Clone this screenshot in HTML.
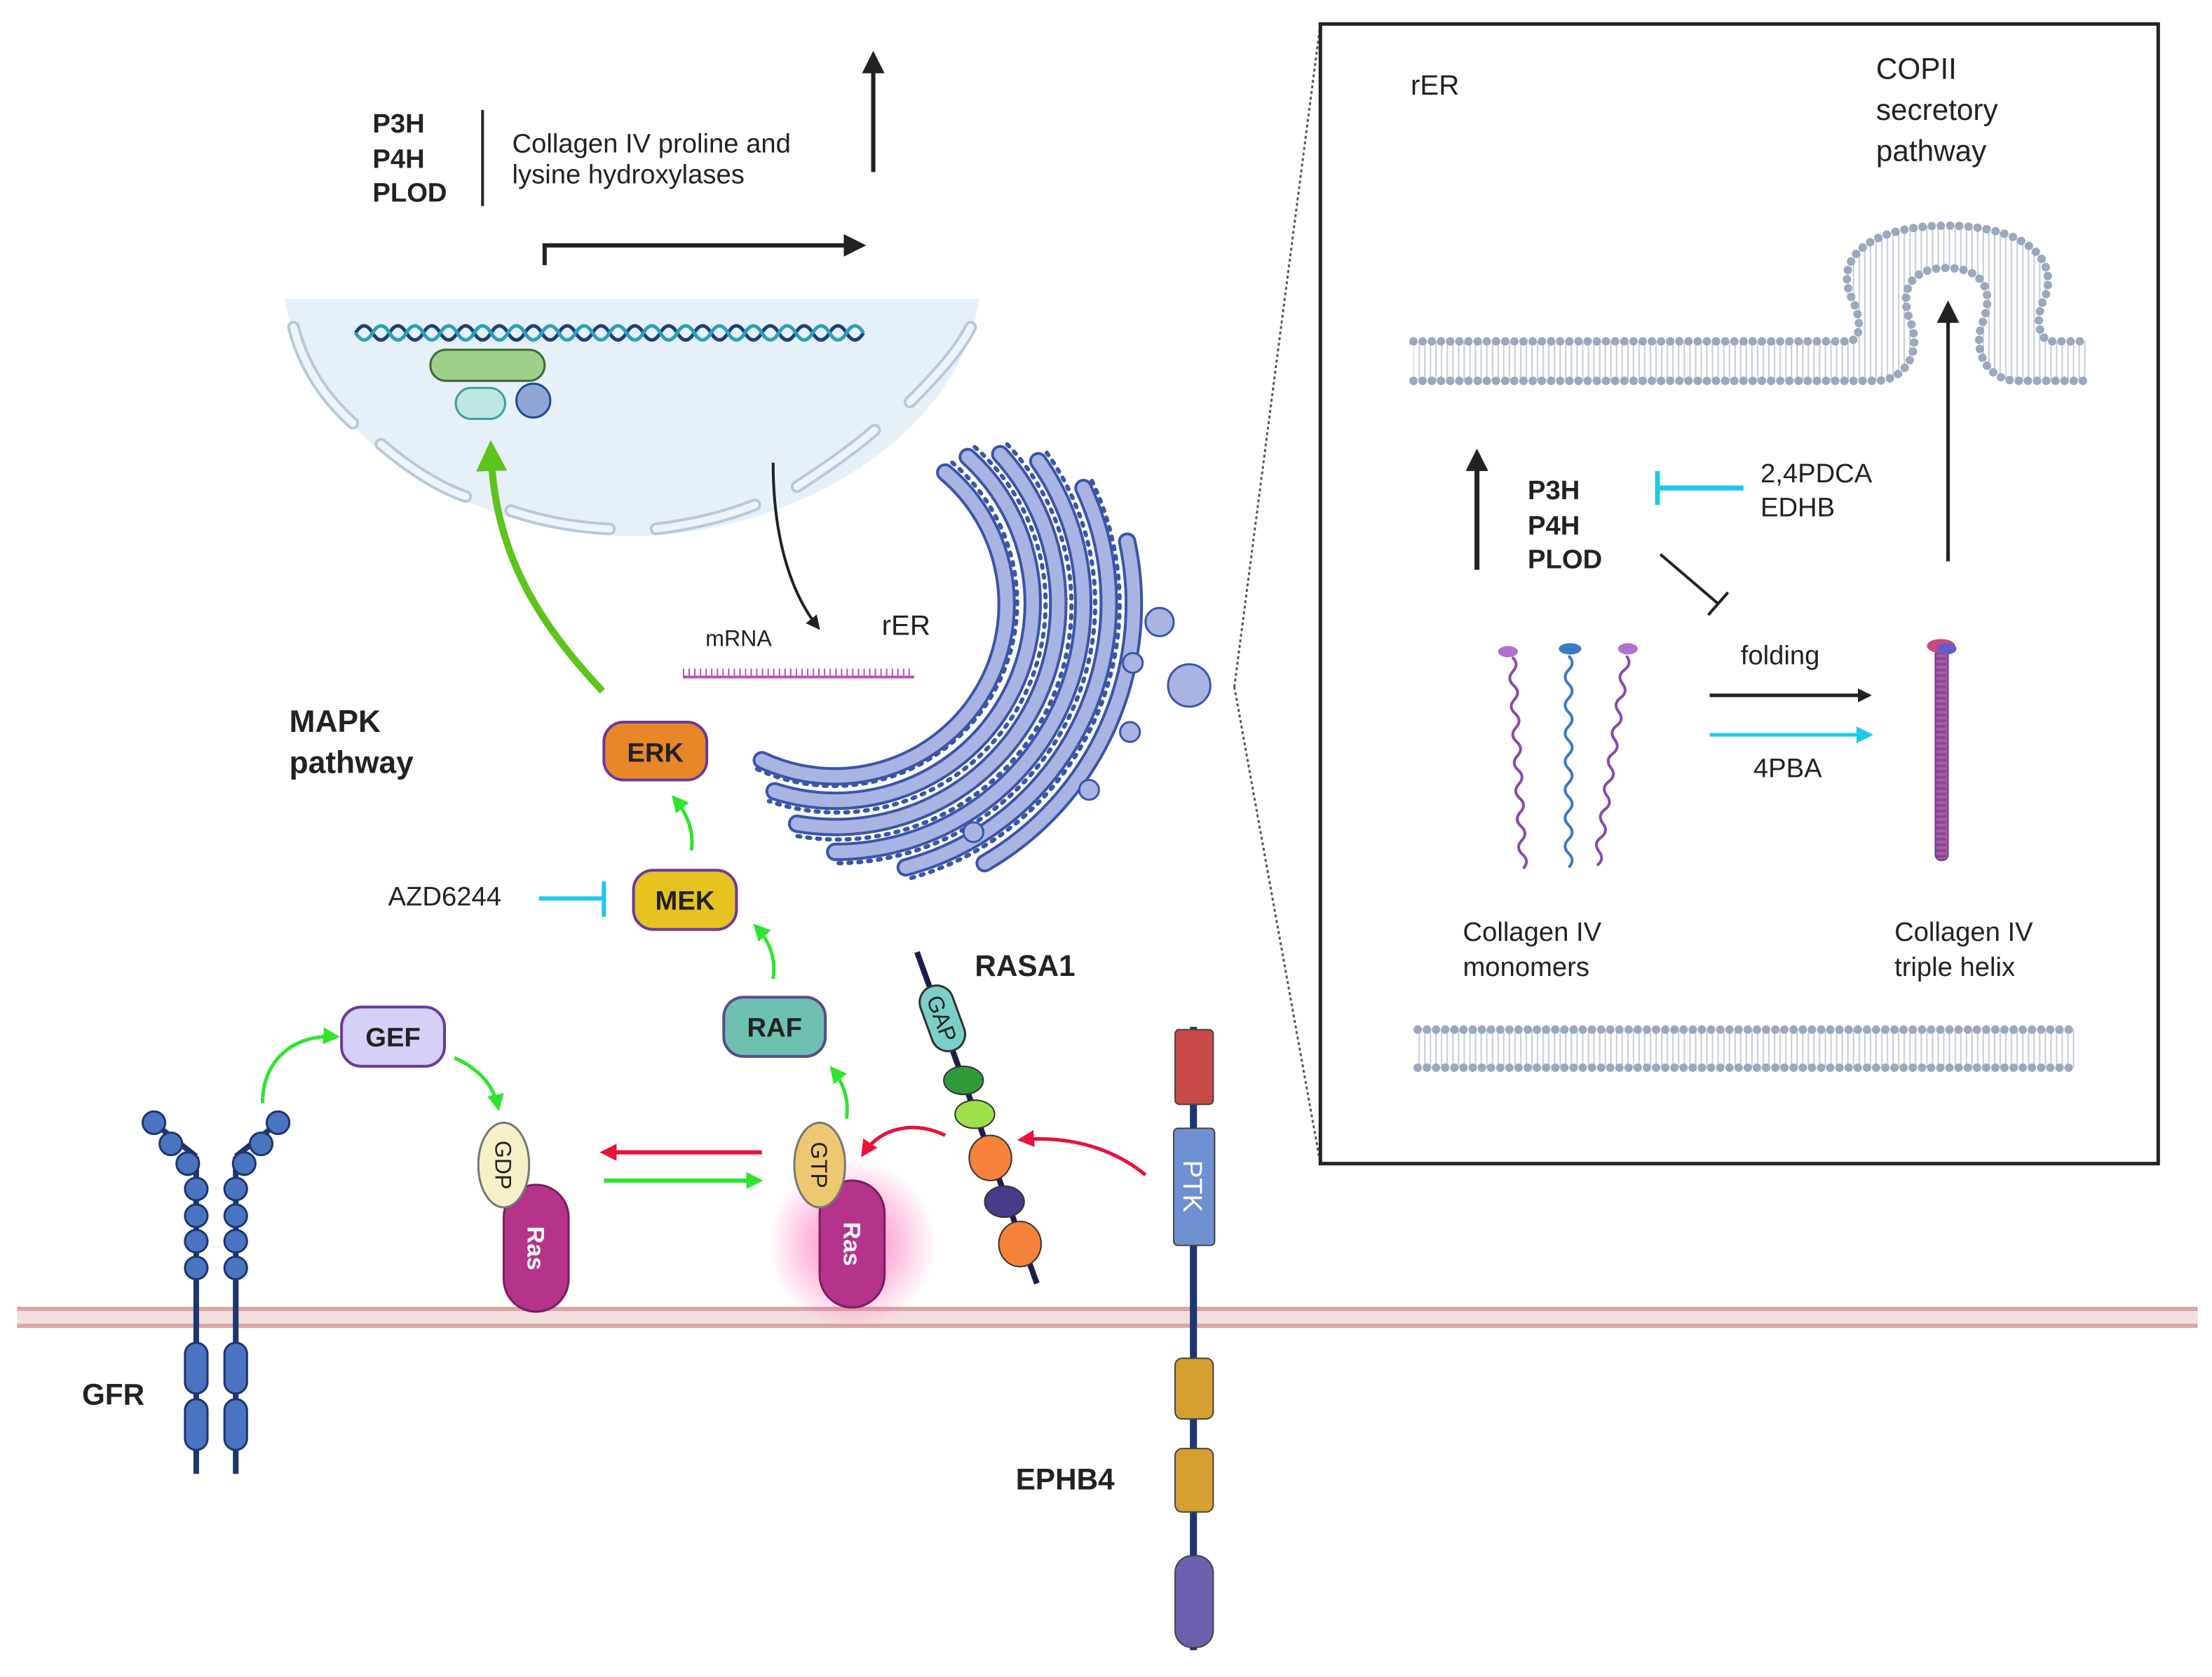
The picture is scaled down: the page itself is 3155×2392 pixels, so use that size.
<!DOCTYPE html>
<html><head><meta charset="utf-8"><style>
html,body{margin:0;padding:0;background:#fff}
svg{display:block}
text{font-family:"Liberation Sans",sans-serif;fill:#222}
.b{font-weight:bold}
</style></head><body>
<svg width="3155" height="2392" viewBox="0 0 1568 1189" xmlns="http://www.w3.org/2000/svg">
<defs>
<marker id="ak" markerWidth="10" markerHeight="10" refX="8" refY="5" orient="auto" markerUnits="userSpaceOnUse"><path d="M0,0 L10,5 L0,10 z" fill="#222"/></marker>
<marker id="akL" markerWidth="16" markerHeight="16" refX="12" refY="8" orient="auto" markerUnits="userSpaceOnUse"><path d="M0,0 L16,8 L0,16 z" fill="#222"/></marker>
<marker id="ag" markerWidth="12" markerHeight="12" refX="9" refY="6" orient="auto" markerUnits="userSpaceOnUse"><path d="M0,0 L12,6 L0,12 z" fill="#2ee52e"/></marker>
<marker id="agL" markerWidth="22" markerHeight="22" refX="14" refY="11" orient="auto" markerUnits="userSpaceOnUse"><path d="M0,0 L22,11 L0,22 z" fill="#5cc41a"/></marker>
<marker id="ar" markerWidth="12" markerHeight="12" refX="9" refY="6" orient="auto" markerUnits="userSpaceOnUse"><path d="M0,0 L12,6 L0,12 z" fill="#e8123a"/></marker>
<marker id="ac" markerWidth="12" markerHeight="12" refX="9" refY="6" orient="auto" markerUnits="userSpaceOnUse"><path d="M0,0 L12,6 L0,12 z" fill="#1ec8e8"/></marker>
<radialGradient id="glow"><stop offset="0" stop-color="#ff4fa8" stop-opacity=".8"/><stop offset="1" stop-color="#ff4fa8" stop-opacity="0"/></radialGradient>
<pattern id="tails" width="4" height="10" patternUnits="userSpaceOnUse"><line x1="2" y1="0" x2="2" y2="10" stroke="#c5ccda" stroke-width="1"/></pattern>
</defs>

<!-- cell membrane -->
<rect x="12" y="927" width="1546" height="14" fill="#f3dede"/>
<line x1="12" y1="928" x2="1558" y2="928" stroke="#d9a6a6" stroke-width="3"/>
<line x1="12" y1="940" x2="1558" y2="940" stroke="#d9a6a6" stroke-width="3"/>

<!-- nucleus -->
<path d="M202,212 H694 C680,310 560,380 448,380 C336,380 216,310 202,212 Z" fill="#e6f0f8"/>
<path d="M208,232 C215,260 230,282 250,300 M270,315 C290,332 310,345 330,352 M362,362 C385,370 410,374 432,375 M465,375 C490,372 515,366 535,358 M565,345 C585,332 605,318 620,305 M645,285 C665,265 680,248 688,232" fill="none" stroke="#b8c8d8" stroke-width="9" stroke-linecap="round"/>
<path d="M208,232 C215,260 230,282 250,300 M270,315 C290,332 310,345 330,352 M362,362 C385,370 410,374 432,375 M465,375 C490,372 515,366 535,358 M565,345 C585,332 605,318 620,305 M645,285 C665,265 680,248 688,232" fill="none" stroke="#eef4fa" stroke-width="5" stroke-linecap="round"/>
<path d="M252,236 q6,-10 12,0 t12,0 t12,0 t12,0 t12,0 t12,0 t12,0 t12,0 t12,0 t12,0 t12,0 t12,0 t12,0 t12,0 t12,0 t12,0 t12,0 t12,0 t12,0 t12,0 t12,0 t12,0 t12,0 t12,0 t12,0 t12,0 t12,0 t12,0 t12,0 t12,0" fill="none" stroke="#1d3f7a" stroke-width="2.5"/>
<path d="M252,236 q6,10 12,0 t12,0 t12,0 t12,0 t12,0 t12,0 t12,0 t12,0 t12,0 t12,0 t12,0 t12,0 t12,0 t12,0 t12,0 t12,0 t12,0 t12,0 t12,0 t12,0 t12,0 t12,0 t12,0 t12,0 t12,0 t12,0 t12,0 t12,0 t12,0 t12,0" fill="none" stroke="#2aa0b8" stroke-width="2.5"/>
<rect x="305" y="248" width="81" height="22" rx="11" fill="#9fd08a" stroke="#3c6a30" stroke-width="1.5"/>
<rect x="323" y="275" width="35" height="22" rx="11" fill="#bfe6e0" stroke="#3aa0a0" stroke-width="1.5"/>
<circle cx="378" cy="284" r="12" fill="#8fa6d6" stroke="#1d4a98" stroke-width="1.5"/>

<!-- top text -->
<text x="264" y="94" class="b" font-size="19">P3H</text>
<text x="264" y="119" class="b" font-size="19">P4H</text>
<text x="264" y="143" class="b" font-size="19">PLOD</text>
<line x1="342" y1="78" x2="342" y2="146" stroke="#222" stroke-width="2"/>
<text x="363" y="108" font-size="19">Collagen IV proline and</text>
<text x="363" y="130" font-size="19">lysine hydroxylases</text>
<path d="M386,188 V174 H610" fill="none" stroke="#222" stroke-width="3" marker-end="url(#akL)"/>
<line x1="619" y1="122" x2="619" y2="40" stroke="#222" stroke-width="3" marker-end="url(#akL)"/>

<!-- arrows nucleus -->
<path d="M427,490 C380,440 350,390 348,320" fill="none" stroke="#5cc41a" stroke-width="5" marker-end="url(#agL)"/>
<path d="M548,328 C548,380 560,420 580,445" fill="none" stroke="#222" stroke-width="2" marker-end="url(#ak)"/>

<text x="500" y="458" font-size="16">mRNA</text>
<line x1="484" y1="480" x2="648" y2="480" stroke="#c050b0" stroke-width="2"/>
<line x1="484" y1="477" x2="648" y2="477" stroke="#c050b0" stroke-width="6" stroke-dasharray="1 3"/>
<text x="625" y="450" font-size="20">rER</text>

<!-- ER -->
<g fill="none" stroke-linecap="round">
<g stroke="#3a55a8" stroke-width="3" stroke-dasharray="2 5">
<path d="M675,328 A130,130 0 0 1 536,545"/>
<path d="M691,317 A148,148 0 0 1 545,568"/>
<path d="M714,315 A166,166 0 0 1 561,592"/>
<path d="M742,321 A184,184 0 0 1 592,612"/>
<path d="M774,341 A202,202 0 0 1 644,623"/>
</g>
<g stroke="#3a55a8" stroke-width="13">
<path d="M670,335 A122,122 0 0 1 540,539"/>
<path d="M686,324 A140,140 0 0 1 549,561"/>
<path d="M709,322 A158,158 0 0 1 565,584"/>
<path d="M736,327 A176,176 0 0 1 592,604"/>
<path d="M768,346 A194,194 0 0 1 642,615"/>
<path d="M799,384 A212,212 0 0 1 698,612"/>
</g>
<g stroke="#a9b4e2" stroke-width="9">
<path d="M670,335 A122,122 0 0 1 540,539"/>
<path d="M686,324 A140,140 0 0 1 549,561"/>
<path d="M709,322 A158,158 0 0 1 565,584"/>
<path d="M736,327 A176,176 0 0 1 592,604"/>
<path d="M768,346 A194,194 0 0 1 642,615"/>
<path d="M799,384 A212,212 0 0 1 698,612"/>
</g>
</g>
<g fill="#a9b4e2" stroke="#3a55a8" stroke-width="1.5">
<circle cx="822" cy="441" r="10"/><circle cx="843" cy="486" r="15"/><circle cx="801" cy="519" r="7"/><circle cx="772" cy="560" r="7"/><circle cx="690" cy="590" r="7"/><circle cx="803" cy="470" r="7"/>
</g>

<!-- MAPK -->
<text x="205" y="519" class="b" font-size="22">MAPK</text>
<text x="205" y="548" class="b" font-size="22">pathway</text>
<rect x="428" y="512" width="73" height="41" rx="14" fill="#e8872a" stroke="#6a3a9a" stroke-width="2"/>
<text x="464.5" y="540" class="b" font-size="19" text-anchor="middle">ERK</text>
<rect x="449" y="617" width="73" height="42" rx="14" fill="#e6c320" stroke="#6a3a9a" stroke-width="2"/>
<text x="485.5" y="645" class="b" font-size="19" text-anchor="middle">MEK</text>
<rect x="513" y="707" width="72" height="42" rx="14" fill="#6ec0b0" stroke="#5a4a8a" stroke-width="2"/>
<text x="549" y="735" class="b" font-size="19" text-anchor="middle">RAF</text>
<rect x="242" y="714" width="73" height="42" rx="14" fill="#d6cff6" stroke="#6a3a9a" stroke-width="2"/>
<text x="278.5" y="742" class="b" font-size="19" text-anchor="middle">GEF</text>
<text x="275" y="642" font-size="19">AZD6244</text>
<line x1="382" y1="637" x2="427" y2="637" stroke="#1ec8e8" stroke-width="3"/>
<line x1="428" y1="625" x2="428" y2="650" stroke="#1ec8e8" stroke-width="3"/>

<g fill="none" stroke="#2ee52e" stroke-width="2.5">
<path d="M490,603 C492,590 488,578 478,566" marker-end="url(#ag)"/>
<path d="M548,694 C550,680 546,668 536,657" marker-end="url(#ag)"/>
<path d="M600,793 C602,780 598,768 590,758" marker-end="url(#ag)"/>
<path d="M186,782 C186,750 210,733 238,735" marker-end="url(#ag)"/>
<path d="M322,750 C340,758 350,770 353,785" marker-end="url(#ag)"/>
</g>
<line x1="428" y1="837" x2="538" y2="837" stroke="#2ee52e" stroke-width="3" marker-end="url(#ag)"/>
<line x1="540" y1="817" x2="428" y2="817" stroke="#e8123a" stroke-width="3" marker-end="url(#ar)"/>
<g fill="none" stroke="#e8123a" stroke-width="2.5">
<path d="M670,805 C650,795 625,798 612,818" marker-end="url(#ar)"/>
<path d="M812,833 C790,815 760,805 724,808" marker-end="url(#ar)"/>
</g>

<!-- GFR -->
<g stroke="#1d3570" stroke-width="4" fill="none">
<line x1="139" y1="820" x2="139" y2="1045"/><line x1="167" y1="820" x2="167" y2="1045"/>
<path d="M139,820 L110,797"/><path d="M167,820 L196,797"/>
</g>
<g fill="#4a74c0" stroke="#1d3570" stroke-width="1.5">
<circle cx="109" cy="796" r="8"/><circle cx="121" cy="811" r="8"/><circle cx="133" cy="825" r="8"/><circle cx="139" cy="843" r="8"/><circle cx="139" cy="862" r="8"/><circle cx="139" cy="880" r="8"/><circle cx="139" cy="899" r="8"/>
<circle cx="197" cy="796" r="8"/><circle cx="185" cy="811" r="8"/><circle cx="173" cy="825" r="8"/><circle cx="167" cy="843" r="8"/><circle cx="167" cy="862" r="8"/><circle cx="167" cy="880" r="8"/><circle cx="167" cy="899" r="8"/>
<rect x="131" y="952" width="16" height="36" rx="8"/><rect x="131" y="992" width="16" height="36" rx="8"/>
<rect x="159" y="952" width="16" height="36" rx="8"/><rect x="159" y="992" width="16" height="36" rx="8"/>
</g>
<text x="58" y="996" class="b" font-size="21">GFR</text>

<!-- Ras -->
<rect x="357" y="840" width="46" height="90" rx="23" fill="#b5338a" stroke="#7a1d5e" stroke-width="1.5"/>
<text transform="translate(380,885) rotate(90)" x="0" y="6" class="b" font-size="17" text-anchor="middle" style="fill:#fff">Ras</text>
<ellipse cx="357" cy="826" rx="18" ry="30" fill="#f6f0c8" stroke="#777" stroke-width="1.5"/>
<text transform="translate(357,826) rotate(90)" x="0" y="6" font-size="16" text-anchor="middle">GDP</text>
<circle cx="604" cy="882" r="60" fill="url(#glow)"/>
<rect x="581" y="837" width="46" height="90" rx="23" fill="#b5338a" stroke="#7a1d5e" stroke-width="1.5"/>
<text transform="translate(604,882) rotate(90)" x="0" y="6" class="b" font-size="17" text-anchor="middle" style="fill:#fff">Ras</text>
<ellipse cx="581" cy="826" rx="18" ry="30" fill="#eec870" stroke="#777" stroke-width="1.5"/>
<text transform="translate(581,826) rotate(90)" x="0" y="6" font-size="16" text-anchor="middle">GTP</text>

<!-- RASA1 -->
<line x1="650" y1="675" x2="735" y2="910" stroke="#1d1d4a" stroke-width="4"/>
<g transform="translate(668,722) rotate(70)"><rect x="-24" y="-12" width="48" height="24" rx="12" fill="#7ad0c8" stroke="#333" stroke-width="1.5"/><text x="0" y="6" font-size="16" text-anchor="middle">GAP</text></g>
<ellipse cx="683" cy="766" rx="14" ry="10" fill="#2e9a3a" stroke="#333"/>
<ellipse cx="691" cy="790" rx="14" ry="10" fill="#9ee04a" stroke="#333"/>
<ellipse cx="702" cy="821" rx="15" ry="16" fill="#f5823a" stroke="#333"/>
<ellipse cx="712" cy="852" rx="14" ry="11" fill="#4a3a8a" stroke="#333"/>
<ellipse cx="723" cy="882" rx="15" ry="16" fill="#f5823a" stroke="#333"/>
<text x="691" y="692" class="b" font-size="21">RASA1</text>

<!-- EPHB4 -->
<line x1="846" y1="728" x2="846" y2="1170" stroke="#1d3570" stroke-width="5"/>
<rect x="833" y="730" width="27" height="53" rx="3" fill="#c94848" stroke="#444"/>
<rect x="832" y="800" width="29" height="83" rx="3" fill="#6e8fd0" stroke="#444"/>
<text transform="translate(846,841) rotate(90)" x="0" y="7" font-size="19" text-anchor="middle" style="fill:#fff">PTK</text>
<rect x="833" y="963" width="27" height="43" rx="5" fill="#d6a030" stroke="#444"/>
<rect x="833" y="1027" width="27" height="45" rx="5" fill="#d6a030" stroke="#444"/>
<rect x="833" y="1103" width="27" height="65" rx="12" fill="#6c5fb0" stroke="#444"/>
<text x="720" y="1056" class="b" font-size="21">EPHB4</text>

<!-- inset -->
<line x1="936" y1="17" x2="875" y2="487" stroke="#555" stroke-width="1.5" stroke-dasharray="2 2"/>
<line x1="875" y1="487" x2="936" y2="825" stroke="#555" stroke-width="1.5" stroke-dasharray="2 2"/>
<rect x="936" y="17" width="594" height="808" fill="#fff" stroke="#222" stroke-width="2.5"/>
<text x="1000" y="67" font-size="20">rER</text>
<text x="1330" y="56" font-size="21">COPII</text>
<text x="1330" y="85" font-size="21">secretory</text>
<text x="1330" y="114" font-size="21">pathway</text>

<path d="M1002,242 H1310 C1320,242 1320,225 1312,210 C1300,180 1330,160 1380,160 C1430,160 1460,180 1450,210 C1442,225 1445,242 1455,242 H1480 V270 H1430 C1410,270 1398,250 1405,230 C1415,205 1405,190 1380,190 C1355,190 1345,205 1355,230 C1362,250 1350,270 1330,270 H1002 Z" fill="url(#tails)"/>
<g fill="none" stroke="#9aa7bd" stroke-width="6" stroke-linecap="round" stroke-dasharray="0 6.5">
<path d="M1002,242 H1310 C1320,242 1320,225 1312,210 C1300,180 1330,160 1380,160 C1430,160 1460,180 1450,210 C1442,225 1445,242 1455,242 H1480"/>
<path d="M1002,270 H1330 C1350,270 1362,250 1355,230 C1345,205 1355,190 1380,190 C1405,190 1415,205 1405,230 C1398,250 1410,270 1430,270 H1480"/>
</g>
<rect x="1005" y="730" width="467" height="27" fill="url(#tails)"/>
<g stroke="#9aa7bd" stroke-width="6" stroke-linecap="round" stroke-dasharray="0 6.5">
<line x1="1005" y1="730" x2="1472" y2="730"/><line x1="1005" y1="757" x2="1472" y2="757"/>
</g>

<line x1="1047" y1="404" x2="1047" y2="322" stroke="#222" stroke-width="3.5" marker-end="url(#akL)"/>
<line x1="1381" y1="398" x2="1381" y2="217" stroke="#222" stroke-width="2.5" marker-end="url(#akL)"/>
<text x="1083" y="354" class="b" font-size="19">P3H</text>
<text x="1083" y="379" class="b" font-size="19">P4H</text>
<text x="1083" y="403" class="b" font-size="19">PLOD</text>
<line x1="1236" y1="346" x2="1176" y2="346" stroke="#1ec8e8" stroke-width="3.5"/>
<line x1="1175" y1="334" x2="1175" y2="358" stroke="#1ec8e8" stroke-width="3.5"/>
<text x="1248" y="342" font-size="19">2,4PDCA</text>
<text x="1248" y="366" font-size="19">EDHB</text>
<line x1="1177" y1="393" x2="1218" y2="428" stroke="#222" stroke-width="2"/>
<line x1="1211" y1="436" x2="1225" y2="420" stroke="#222" stroke-width="2"/>
<text x="1234" y="471" font-size="19">folding</text>
<line x1="1212" y1="493" x2="1325" y2="493" stroke="#222" stroke-width="2.5" marker-end="url(#ak)"/>
<line x1="1212" y1="521" x2="1325" y2="521" stroke="#1ec8e8" stroke-width="2.5" marker-end="url(#ac)"/>
<text x="1243" y="551" font-size="19">4PBA</text>

<!-- monomers -->
<g fill="none" stroke-width="2">
<path d="M1072,466 q5,5 0,10 t0,10 t0,10 t0,10 t0,10 t0,10 t0,10 t0,10 t0,10 t0,10 t0,10 t0,10 t0,10 t0,10 t0,10" stroke="#8a4aa8" transform="rotate(-3 1072 466)"/>
<path d="M1112,465 q5,5 0,10 t0,10 t0,10 t0,10 t0,10 t0,10 t0,10 t0,10 t0,10 t0,10 t0,10 t0,10 t0,10 t0,10 t0,10" stroke="#3a7ac8"/>
<path d="M1153,465 q5,5 0,10 t0,10 t0,10 t0,10 t0,10 t0,10 t0,10 t0,10 t0,10 t0,10 t0,10 t0,10 t0,10 t0,10 t0,10" stroke="#8a4aa8" transform="rotate(8 1153 465)"/>
</g>
<ellipse cx="1069" cy="462" rx="7" ry="4" fill="#b070d0"/>
<ellipse cx="1113" cy="460" rx="8" ry="4" fill="#3a7ac8"/>
<ellipse cx="1154" cy="460" rx="7" ry="4" fill="#b070d0"/>
<rect x="1372" y="460" width="9" height="150" rx="4" fill="#b05a9a" stroke="#6a3a9a" stroke-width="1"/>
<line x1="1376" y1="462" x2="1376" y2="608" stroke="#6a3aa8" stroke-width="7" stroke-dasharray="2 2" opacity=".6"/>
<ellipse cx="1376" cy="458" rx="10" ry="5" fill="#c84a7a"/>
<ellipse cx="1380" cy="460" rx="7" ry="4" fill="#6a5ac8"/>
<text x="1037" y="667" font-size="19">Collagen IV</text>
<text x="1037" y="692" font-size="19">monomers</text>
<text x="1343" y="667" font-size="19">Collagen IV</text>
<text x="1343" y="692" font-size="19">triple helix</text>
</svg>
</body></html>
